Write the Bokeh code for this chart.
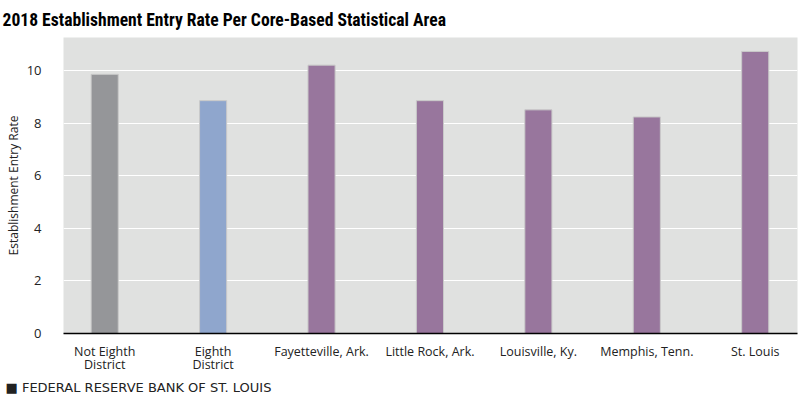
from bokeh.plotting import figure
from bokeh.models import Range1d, FixedTicker, Title, ColumnDataSource
from bokeh.embed import file_html
from bokeh.resources import INLINE

categories = ["Not Eighth\nDistrict", "Eighth\nDistrict", "Fayetteville, Ark.",
              "Little Rock, Ark.", "Louisville, Ky.", "Memphis, Tenn.", "St. Louis"]
values = [9.85, 8.85, 10.2, 8.85, 8.5, 8.23, 10.72]
bar_colors = ["#959699", "#8fa6cd", "#98769d", "#98769d", "#98769d", "#98769d", "#98769d"]
y_ticks = [0, 2, 4, 6, 8, 10]

xs = list(range(len(categories)))
src = ColumnDataSource(dict(x=xs, top=values, color=bar_colors))

p = figure(width=800, height=395, output_backend="svg", toolbar_location=None,
           x_range=Range1d(-0.38, 6.39), y_range=Range1d(0, 11.25),
           min_border_left=63, min_border_right=3, min_border_top=36, min_border_bottom=0)

p.vbar(x="x", top="top", width=0.25, bottom=0, color="color", line_color="#c9c9c9",
       line_width=1, source=src)

p.background_fill_color = "#e0e1e0"
p.border_fill_color = "white"
p.outline_line_color = None

p.xgrid.grid_line_color = None
p.ygrid.grid_line_color = "white"
p.ygrid.grid_line_width = 1
p.ygrid.ticker = FixedTicker(ticks=y_ticks)

xa = p.xaxis[0]
xa.ticker = FixedTicker(ticks=xs)
xa.major_label_overrides = {i: c for i, c in enumerate(categories)}
xa.major_tick_line_color = None
xa.minor_tick_line_color = None
xa.axis_line_color = "black"
xa.axis_line_width = 1.5
xa.major_label_text_font = "Open Sans"
xa.major_label_text_font_size = "12.5px"
xa.major_label_text_color = "#222222"
xa.major_label_text_line_height = 0.8
xa.major_label_standoff = 3

ya = p.yaxis[0]
ya.ticker = FixedTicker(ticks=y_ticks)
ya.major_tick_line_color = None
ya.minor_tick_line_color = None
ya.axis_line_color = None
ya.major_label_text_font = "Open Sans"
ya.major_label_text_font_size = "13px"
ya.major_label_text_color = "#222222"
ya.major_label_standoff = 16
ya.axis_label = "Establishment Entry Rate"
ya.axis_label_text_font = "Open Sans"
ya.axis_label_text_font_style = "normal"
ya.axis_label_text_font_size = "12px"
ya.axis_label_text_color = "#222222"
ya.axis_label_standoff = 2

p.title = Title(text="2018 Establishment Entry Rate Per Core-Based Statistical Area",
                text_font="Roboto Condensed", text_font_style="bold",
                text_font_size="17.6px", text_color="black", offset=-61, standoff=15)

footer = Title(text="\u25a0 FEDERAL RESERVE BANK OF ST. LOUIS", text_font="DejaVu Sans",
               text_font_style="normal", text_font_size="13px", text_color="#222222",
               offset=-58, standoff=2)
p.add_layout(footer, "below")

open("out.html", "w").write(file_html(p, INLINE))
